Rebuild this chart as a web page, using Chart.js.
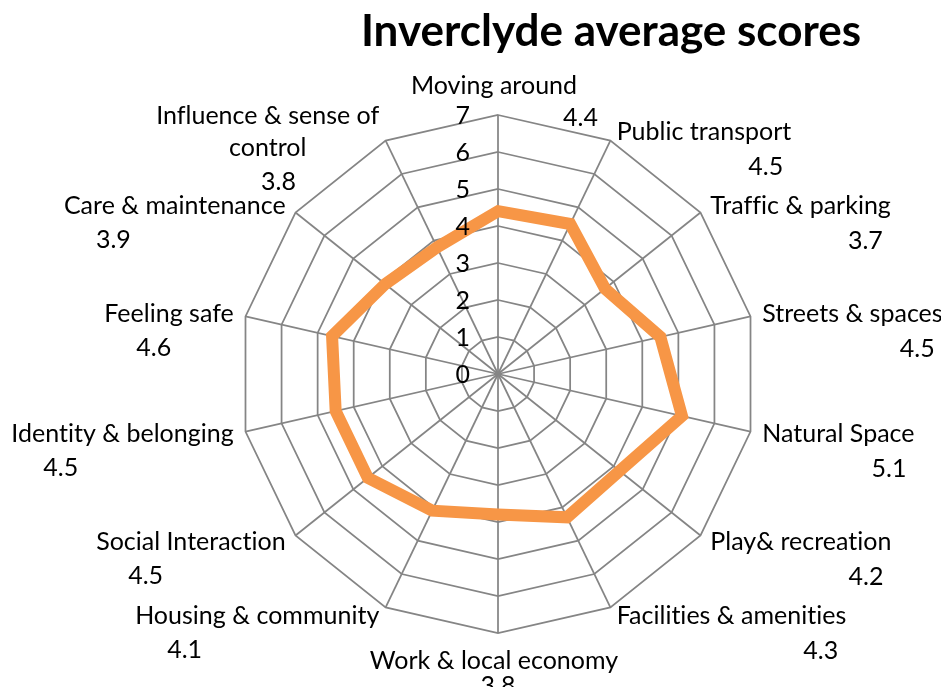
<!DOCTYPE html>
<html>
<head>
<meta charset="utf-8">
<script src="https://cdn.jsdelivr.net/npm/chart.js@4.4.0/dist/chart.umd.min.js"></script>
<style>
  html, body { margin: 0; padding: 0; background: #fff; }
  #wrap { width: 941px; height: 687px; }
</style>
</head>
<body>
<div id="wrap"><canvas id="chart"></canvas></div>
<script>
const categories = [
  "Moving around", "Public transport", "Traffic & parking", "Streets & spaces",
  "Natural Space", "Play& recreation", "Facilities & amenities", "Work & local economy",
  "Housing & community", "Social Interaction", "Identity & belonging", "Feeling safe",
  "Care & maintenance", ["Influence & sense of", "control"]
];
const scores = [4.4, 4.5, 3.7, 4.5, 5.1, 4.2, 4.3, 3.8, 4.1, 4.5, 4.5, 4.6, 3.9, 3.8];
const tickLabels = ["0", "1", "2", "3", "4", "5", "6", "7"];

const FONT = "25px Lato";
const GRID = "#858585";

// draws title, tick numbers and the category/value labels around the web
const labelPlugin = {
  id: "spokeLabels",
  afterDraw(chart) {
    const scale = chart.scales.r;
    const ctx = chart.ctx;
    const R = scale.drawingArea;
    ctx.save();
    ctx.fillStyle = "#000";
    ctx.letterSpacing = "0.01px"; // stops the "ti" ligature

    ctx.font = "bold 44px Lato";
    ctx.textAlign = "center";
    ctx.textBaseline = "alphabetic";
    ctx.fillText("Inverclyde average scores", 611, 46);

    ctx.font = FONT;
    ctx.textAlign = "right";
    ctx.textBaseline = "middle";
    tickLabels.forEach((t, k) => {
      const y = scale.yCenter - scale.getDistanceFromCenterForValue(k);
      ctx.fillText(t, scale.xCenter - 28, y + 1);
    });

    const lh = 32;
    categories.forEach((name, i) => {
      const lines = Array.isArray(name) ? name : [name];
      const value = scores[i].toFixed(1);
      const p = scale.getPointPosition(i, R + 10);
      const dx = p.x - scale.xCenter;
      const widths = lines.map(l => ctx.measureText(l).width);
      const maxW = Math.max(...widths);
      ctx.textAlign = "center";

      if (Math.abs(dx) < 1) {
        const top = p.y < scale.yCenter;
        const y = top ? p.y - 19 : p.y + 18;
        ctx.fillText(lines[0], p.x - 4, y);
        if (top) {
          ctx.textAlign = "left";
          ctx.fillText(value, p.x - 4 + maxW / 2 - 14, y + 32);
        } else {
          ctx.fillText(value, p.x, y + 25);
        }
        return;
      }

      const cx = dx > 0 ? p.x + 2 + maxW / 2 : p.x - 2 - maxW / 2;
      const y0 = p.y - (lines.length - 1) * lh / 2;
      lines.forEach((l, k) => ctx.fillText(l, cx, y0 + k * lh));
      const lastY = y0 + (lines.length - 1) * lh;
      const lastW = widths[widths.length - 1];
      if (dx > 0) {
        ctx.textAlign = "right";
        ctx.fillText(value, cx + maxW / 2 - 8, lastY + 35);
      } else {
        ctx.textAlign = "left";
        ctx.fillText(value, cx - lastW / 2 + 32, lastY + 34);
      }
    });
    ctx.restore();
  }
};

new Chart(document.getElementById("chart"), {
  type: "radar",
  data: {
    labels: categories,
    datasets: [{
      label: "Inverclyde",
      data: scores,
      borderColor: "#F79646",
      borderWidth: 12,
      backgroundColor: "transparent",
      fill: false,
      pointRadius: 0,
      pointHoverRadius: 0,
      tension: 0
    }]
  },
  options: {
    responsive: true,
    maintainAspectRatio: false,
    animation: false,
    layout: { padding: { left: 239, right: 184, top: 115, bottom: 54 } },
    plugins: { legend: { display: false }, title: { display: false }, tooltip: { enabled: false } },
    scales: {
      r: {
        min: 0,
        max: 7,
        ticks: { display: false, stepSize: 1 },
        grid: { color: GRID, lineWidth: 1.75 },
        angleLines: { color: GRID, lineWidth: 1.75 },
        pointLabels: { display: false }
      }
    }
  },
  plugins: [labelPlugin]
});
</script>
</body>
</html>
